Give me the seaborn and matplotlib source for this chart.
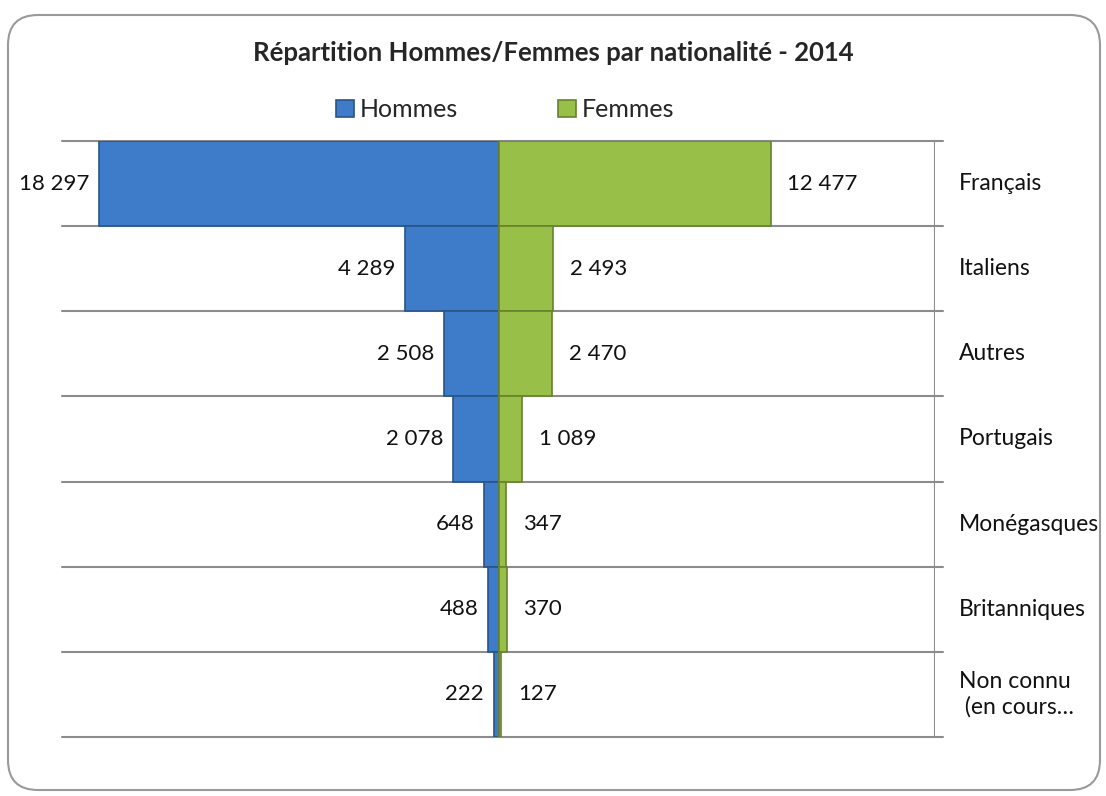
"""
Répartition Hommes/Femmes par nationalité - 2014
Graphique en pyramide (barres horizontales opposées) avec seaborn.
"""

import matplotlib
matplotlib.use("Agg")
import matplotlib.pyplot as plt
from matplotlib.patches import FancyBboxPatch
import pandas as pd
import seaborn as sns

# données
nationalites = ["Français", "Italiens", "Autres", "Portugais",
                "Monégasques", "Britanniques", "Non connu\n (en cours…"]
hommes = [18297, 4289, 2508, 2078, 648, 488, 222]
femmes = [12477, 2493, 2470, 1089, 347, 370, 127]

BLEU = "#3e7bc8"
VERT = "#98bf47"


def fmt(v):
    # séparateur de milliers avec espace
    return f"{v:,}".replace(",", " ")


sns.set_theme(style="white")
plt.rcParams["font.family"] = ["Lato", "DejaVu Sans"]

# tableau long : hommes en négatif à gauche, femmes à droite
df = pd.DataFrame({
    "nationalite": nationalites * 2,
    "sexe": ["Hommes"] * len(hommes) + ["Femmes"] * len(femmes),
    "valeur": [-v for v in hommes] + femmes,
})

fig = plt.figure(figsize=(11.06, 7.96), dpi=100)
ax = fig.add_axes([0.0561, 0.0741, 0.7893, 0.7488])

sns.barplot(data=df, x="valeur", y="nationalite", hue="sexe",
            palette={"Hommes": BLEU, "Femmes": VERT}, dodge=False,
            width=1.0, orient="h", ax=ax, edgecolor="none", saturation=1)

# contour plus foncé pour donner un léger relief
for bar in ax.patches:
    fc = bar.get_facecolor()
    bar.set_edgecolor(tuple(c * 0.68 for c in fc[:3]))
    bar.set_linewidth(1.2)

n = len(nationalites)
ax.set_xlim(-20000, 20000)
ax.set_ylim(n - 0.5, -0.5)

# étiquettes de valeurs
for i, (h, f) in enumerate(zip(hommes, femmes)):
    ax.annotate(fmt(h), (-h, i), xytext=(-7, 0), textcoords="offset points",
                ha="right", va="center", fontsize=16, color="#111111",
                annotation_clip=False)
    ax.annotate(fmt(f), (f, i), xytext=(12, 0), textcoords="offset points",
                ha="left", va="center", fontsize=16, color="#111111")

# lignes de séparation et axe des catégories à droite
for b in [k - 0.5 for k in range(n + 1)]:
    ax.plot([-20000, 20350], [b, b], color="#8c8c8c", lw=1.5,
            clip_on=False, zorder=0)
ax.axvline(20000, color="#8c8c8c", lw=1.5)

for s in ["left", "top", "bottom", "right"]:
    ax.spines[s].set_visible(False)
ax.set_xticks([])
ax.set_yticks([])
ax.set_xlabel("")
ax.set_ylabel("")
for i, nom in enumerate(nationalites):
    ax.text(21100, i, nom, ha="left", va="center", fontsize=16.5,
            color="#111111", linespacing=1.25, clip_on=False)

# légende
handles, labels = ax.get_legend_handles_labels()
ax.get_legend().remove()
fig.legend(handles, labels, loc="center", bbox_to_anchor=(0.457, 0.862),
           ncol=2, frameon=False, fontsize=18, handlelength=0.7,
           handleheight=0.7, handletextpad=0.25, columnspacing=4.0)

fig.suptitle("Répartition Hommes/Femmes par nationalité - 2014",
             x=0.5, y=0.934, fontsize=18.5, fontweight="bold", va="center")

# cadre arrondi autour du graphique
cadre = FancyBboxPatch((0.08, 0.06), 10.92, 7.75,
                       boxstyle="round,pad=0,rounding_size=0.3",
                       transform=fig.dpi_scale_trans, fill=False,
                       edgecolor="#9a9a9a", lw=1.5)
fig.patches.append(cadre)

fig.savefig("out.png", dpi=100)
